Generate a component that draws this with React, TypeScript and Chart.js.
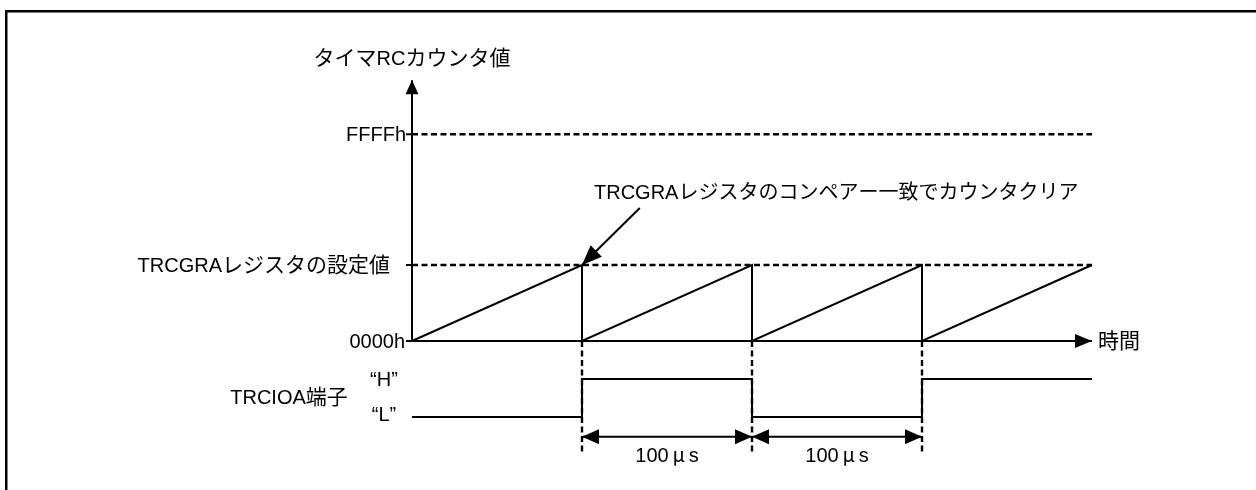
import React, { useEffect, useRef } from "react";
import { Chart, registerables } from "chart.js";

Chart.register(...registerables);

// ---- data (time in µs, counter in units of the TRCGRA setting) ----
const counterTimes = [0, 100, 100, 200, 200, 300, 300, 400];
const counterValues = [0, 1, 0, 1, 0, 1, 0, 1];
const pinTimes = [0, 100, 100, 200, 200, 300, 300, 400];
const pinLevels = [-1, -1, -0.5, -0.5, -1, -1, -0.5, -0.5];
const levelNames = ["FFFFh", "TRCGRAレジスタの設定値", "0000h"];
const levelValues = [2.72, 1, 0];
const dashedLevels = [2.72, 1];
const clearTimes = [100, 200, 300];
const intervalStarts = [100, 200];
const intervalEnds = [200, 300];
const intervalLabels = ["100μs", "100μs"];
const pinStateLabels = ["“H”", "“L”"];
const pinStateValues = [-0.5, -1];
const yAxisTitle = "タイマRCカウンタ値";
const xAxisTitle = "時間";
const pinTitle = "TRCIOA端子";
const noteText = "TRCGRAレジスタのコンペアー一致でカウンタクリア";
const noteArrowX = [134, 100];
const noteArrowY = [1.75, 1];
const timeEnd = 400;
const yAxisTop = 3.43;
const dimLevel = -1.26;
const guideBottom = -1.46;
const pinTitleLevel = -0.74;
const noteLevel = 1.96;
const titleLevel = 3.72;
const dimLabelLevel = -1.5;

const latinFont = (s: number) => `${s}px "Liberation Sans", Arial, sans-serif`;
const cjkFont = (s: number) => `${s}px "Noto Sans CJK JP", "Noto Sans CJK SC", sans-serif`;

function drawMixed(
  ctx: CanvasRenderingContext2D,
  text: string,
  x: number,
  y: number,
  align: "left" | "right" | "center",
  cjkSize = 20,
  latinSize = 20
) {
  type Piece = { t: string; f: string; w: number; cell: number };
  const pieces: Piece[] = [];
  for (const ch of Array.from(text)) {
    const code = ch.codePointAt(0) || 0;
    const isLatin = code < 0x300 || (code >= 0x2000 && code <= 0x206f);
    const f = isLatin ? latinFont(latinSize) : cjkFont(cjkSize);
    ctx.font = f;
    const w = ctx.measureText(ch).width;
    const cell = isLatin ? w : Math.max(w, cjkSize);
    pieces.push({ t: ch, f, w, cell });
  }
  const total = pieces.reduce((a, p) => a + p.cell, 0);
  let cx = align === "left" ? x : align === "right" ? x - total : x - total / 2;
  ctx.textAlign = "left";
  ctx.textBaseline = "alphabetic";
  ctx.fillStyle = "#000";
  for (const p of pieces) {
    ctx.font = p.f;
    ctx.fillText(p.t, cx + (p.cell - p.w) / 2, y + 7);
    cx += p.cell;
  }
}

function arrowHead(
  ctx: CanvasRenderingContext2D,
  tipX: number,
  tipY: number,
  fromX: number,
  fromY: number,
  len: number,
  half: number
) {
  const dx = tipX - fromX;
  const dy = tipY - fromY;
  const d = Math.hypot(dx, dy) || 1;
  const ux = dx / d;
  const uy = dy / d;
  const bx = tipX - ux * len;
  const by = tipY - uy * len;
  ctx.beginPath();
  ctx.moveTo(tipX, tipY);
  ctx.lineTo(bx - uy * half, by + ux * half);
  ctx.lineTo(bx + uy * half, by - ux * half);
  ctx.closePath();
  ctx.fillStyle = "#000";
  ctx.fill();
}

const pts = (xs: number[], ys: number[]) => xs.map((x, i) => ({ x, y: ys[i] }));

export default function App() {
  const ref = useRef<HTMLCanvasElement | null>(null);

  useEffect(() => {
    if (!ref.current) return;
    const solid = (data: { x: number; y: number }[], w = 2) => ({
      data,
      showLine: true,
      borderColor: "#000",
      borderWidth: w,
      pointRadius: 0,
      fill: false,
      tension: 0,
    });
    const dashed = (data: { x: number; y: number }[]) => ({
      ...solid(data, 2.4),
      borderDash: [6, 3.5],
    });

    const datasets: any[] = [
      solid(pts(counterTimes, counterValues)),
      solid(pts(pinTimes, pinLevels)),
      ...dashedLevels.map((lv) => dashed([{ x: 0, y: lv }, { x: timeEnd, y: lv }])),
      ...clearTimes.map((t) => dashed([{ x: t, y: 0 }, { x: t, y: guideBottom }])),
      solid([{ x: 0, y: 0 }, { x: 0, y: yAxisTop }]),
      solid([{ x: 0, y: 0 }, { x: timeEnd, y: 0 }]),
      ...levelValues.map((lv) => solid([{ x: -3.5, y: lv }, { x: 0, y: lv }])),
      ...intervalStarts.map((s, i) =>
        solid([{ x: s, y: dimLevel }, { x: intervalEnds[i], y: dimLevel }])
      ),
      solid(pts(noteArrowX, noteArrowY)),
    ];

    const overlay = {
      id: "overlay",
      beforeDraw(chart: any) {
        const c = chart.ctx as CanvasRenderingContext2D;
        c.save();
        c.fillStyle = "#fff";
        c.fillRect(0, 0, chart.width, chart.height);
        c.fillStyle = "#000";
        c.fillRect(5, 10, chart.width - 5, 2.5);
        c.fillRect(5, 10, 2.5, chart.height - 10);
        c.restore();
      },
      afterDatasetsDraw(chart: any) {
        const c = chart.ctx as CanvasRenderingContext2D;
        const xs = chart.scales.x;
        const ys = chart.scales.y;
        const X = (v: number) => xs.getPixelForValue(v);
        const Y = (v: number) => ys.getPixelForValue(v);
        c.save();
        // arrow heads
        arrowHead(c, X(0), Y(yAxisTop), X(0), Y(0), 14, 6.5);
        arrowHead(c, X(timeEnd), Y(0), X(0), Y(0), 17, 7);
        intervalStarts.forEach((s, i) => {
          const e = intervalEnds[i];
          arrowHead(c, X(s), Y(dimLevel), X(e), Y(dimLevel), 17, 7.5);
          arrowHead(c, X(e), Y(dimLevel), X(s), Y(dimLevel), 17, 7.5);
        });
        arrowHead(c, X(noteArrowX[1]), Y(noteArrowY[1]), X(noteArrowX[0]), Y(noteArrowY[0]), 20, 8);

        // texts
        drawMixed(c, yAxisTitle, X(0), Y(titleLevel), "center", 21);
        drawMixed(c, levelNames[0], X(0) - 6, Y(levelValues[0]), "right");
        drawMixed(c, levelNames[1], X(0) - 22, Y(levelValues[1]), "right", 21);
        drawMixed(c, levelNames[2], X(0) - 7, Y(levelValues[2]), "right");
        drawMixed(c, xAxisTitle, X(timeEnd) + 6, Y(0), "left", 21);
        drawMixed(c, noteText, X(noteArrowX[1]) + 12, Y(noteLevel), "left");
        drawMixed(c, pinTitle, X(0) - 123, Y(pinTitleLevel), "center", 21);
        pinStateLabels.forEach((t, i) =>
          drawMixed(c, t, X(0) - 28, Y(pinStateValues[i]) - (i === 0 ? 0 : 3), "center")
        );
        intervalLabels.forEach((t, i) =>
          drawMixed(c, t, (X(intervalStarts[i]) + X(intervalEnds[i])) / 2, Y(dimLabelLevel), "center")
        );
        c.restore();
      },
    };

    const chart = new Chart(ref.current, {
      type: "scatter",
      data: { datasets },
      options: {
        animation: false,
        responsive: false,
        events: [],
        layout: { padding: { left: 4, right: 4.2, top: 37, bottom: 12.2 } },
        plugins: { legend: { display: false }, tooltip: { enabled: false } },
        scales: {
          x: { type: "linear", min: -240, max: 494, display: false },
          y: { type: "linear", min: -1.8, max: 4.0, display: false },
        },
      },
      plugins: [overlay],
    } as any);
    return () => chart.destroy();
  }, []);

  return (
    <div style={{ position: "absolute", left: 0, top: 0, width: 1256, height: 490 }}>
      <canvas ref={ref} width={1256} height={490} style={{ display: "block" }} />
    </div>
  );
}
